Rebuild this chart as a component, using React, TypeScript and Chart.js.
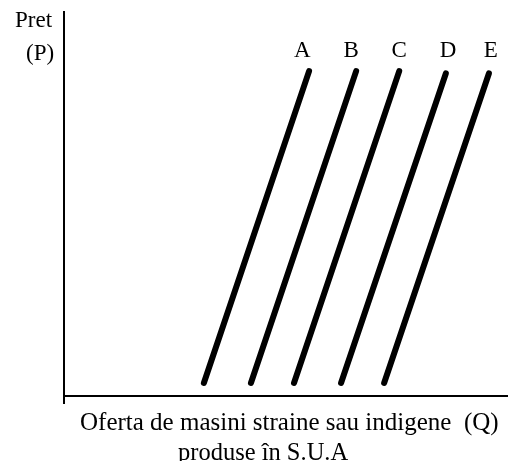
import React, { useEffect, useRef } from 'react';
import { Chart, registerables } from 'chart.js';

Chart.register(...registerables);

// Supply curves for foreign or domestic cars (Q on x, P on y, abstract units 0-100)
const curveNames = ['A', 'B', 'C', 'D', 'E'];
const qStart = [31.5, 42.1, 51.8, 62.4, 72.1];
const pStart = [3.4, 3.4, 3.4, 3.4, 3.4];
const qEnd = [55.2, 65.8, 75.5, 86.0, 95.7];
const pEnd = [84.6, 84.6, 84.6, 84.0, 84.0];
const labelQ = [53.7, 64.7, 75.5, 86.5, 96.1];
const labelP = 88.3;
const yTitle = ['Pret', '(P)'];
const xTitle = ['Oferta de masini straine sau indigene  (Q)', 'produse în S.U.A'];

const SERIF = '"Liberation Serif", "Times New Roman", serif';

const annotate = {
  id: 'annotate',
  afterDraw(chart: any) {
    const { ctx, chartArea, scales } = chart;
    ctx.save();
    // y axis stub below the x axis
    ctx.strokeStyle = '#000';
    ctx.lineWidth = 2;
    ctx.beginPath();
    ctx.moveTo(chartArea.left, chartArea.bottom);
    ctx.lineTo(chartArea.left, chartArea.bottom + 8);
    ctx.stroke();

    ctx.fillStyle = '#000';
    ctx.textBaseline = 'alphabetic';
    // curve labels
    ctx.font = `23px ${SERIF}`;
    ctx.textAlign = 'center';
    curveNames.forEach((n, i) => {
      ctx.fillText(n, scales.x.getPixelForValue(labelQ[i]), scales.y.getPixelForValue(labelP));
    });
    // y title
    ctx.font = `23px ${SERIF}`;
    ctx.textAlign = 'left';
    ctx.fillText(yTitle[0], chartArea.left - 49, chartArea.top + 15);
    ctx.fillText(yTitle[1], chartArea.left - 38, chartArea.top + 48);
    // x title
    ctx.font = `25px ${SERIF}`;
    ctx.fillText(xTitle[0], chartArea.left + 16, chartArea.bottom + 34);
    ctx.font = `24.5px ${SERIF}`;
    ctx.fillText(xTitle[1], chartArea.left + 114, chartArea.bottom + 64);
    ctx.restore();
  },
};

export default function App() {
  const ref = useRef<HTMLCanvasElement>(null);
  useEffect(() => {
    if (!ref.current) return;
    const datasets = curveNames.map((n, i) => ({
      label: n,
      data: [
        { x: qStart[i], y: pStart[i] },
        { x: qEnd[i], y: pEnd[i] },
      ],
      borderColor: '#000',
      backgroundColor: '#000',
      borderWidth: 6,
      borderCapStyle: 'round' as const,
      pointRadius: 0,
      fill: false,
      tension: 0,
    }));
    const axis = {
      type: 'linear' as const,
      min: 0,
      max: 100,
      ticks: { display: false, padding: 0 },
      grid: { display: false, drawTicks: false, tickLength: 0 },
      border: { display: true, color: '#000', width: 2 },
    };
    const chart = new Chart(ref.current, {
      type: 'line',
      data: { datasets },
      options: {
        responsive: false,
        animation: false,
        layout: { padding: { left: 64, right: 0, top: 12, bottom: 65 } },
        plugins: { legend: { display: false }, tooltip: { enabled: false } },
        scales: { x: { ...axis }, y: { ...axis } },
      },
      plugins: [annotate],
    });
    return () => chart.destroy();
  }, []);
  return (
    <div style={{ position: 'fixed', left: 0, top: 0, width: 508, height: 461, background: '#fff' }}>
      <canvas ref={ref} width={508} height={461} style={{ display: 'block' }} />
    </div>
  );
}
